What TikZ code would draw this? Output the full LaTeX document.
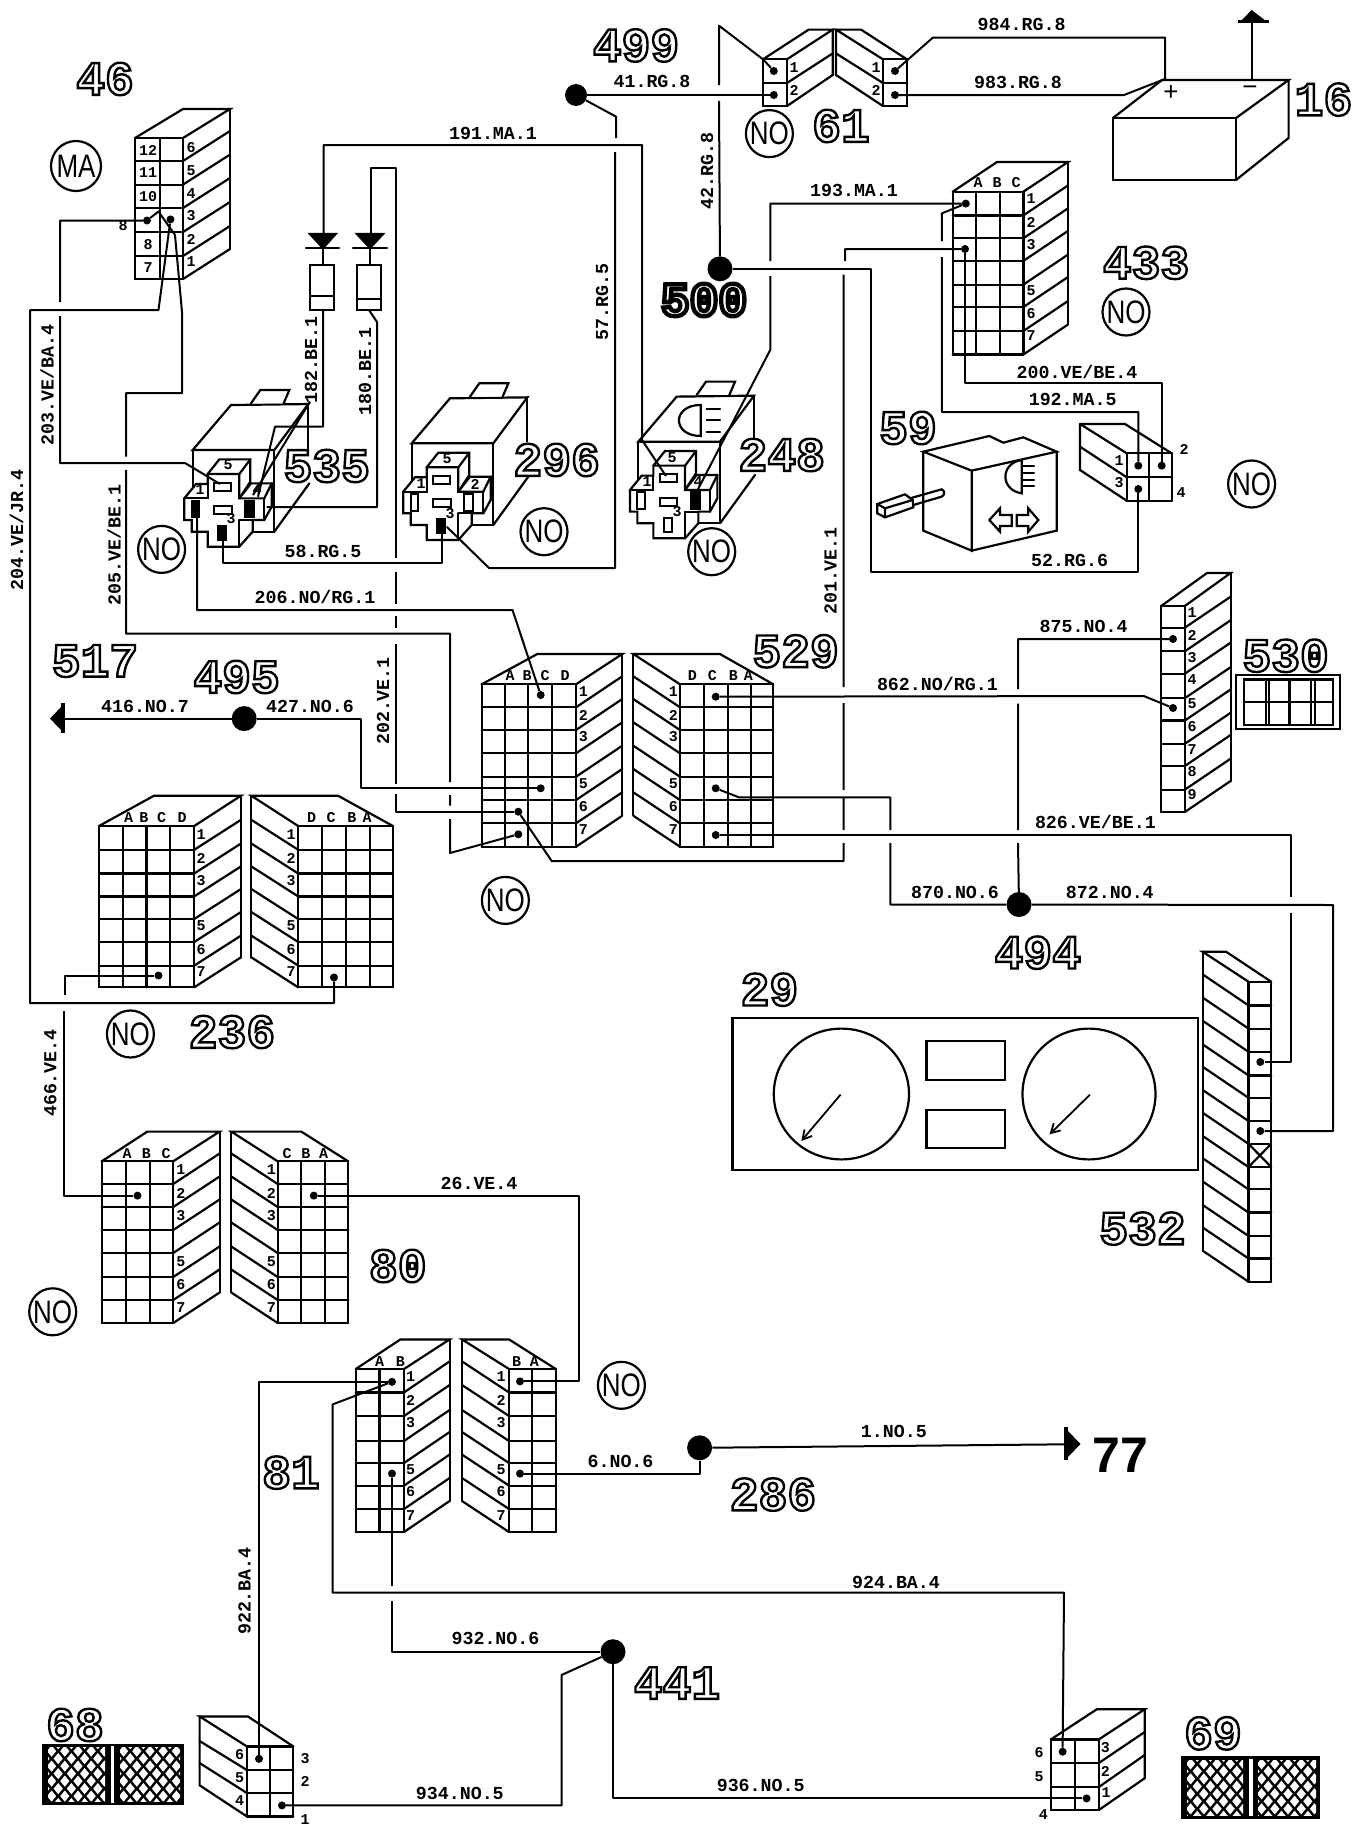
\documentclass[tikz,border=0pt]{standalone}
\usepackage{fontspec}
\usepackage{graphicx}
\usetikzlibrary{arrows.meta}
\newfontfamily\monof{Liberation Mono}
\newfontfamily\sansf{Liberation Sans}
\newfontfamily\outf{Liberation Mono}[BoldFeatures={FakeBold=5}]
\newfontfamily\outg{Liberation Mono}[BoldFeatures={FakeBold=9}]
\newcommand\outl[1]{\special{pdf:bcolor [1 1 1] [0 0 0]}#1\special{pdf:ecolor}}
\newcommand\tagtxt[1]{\scalebox{1}[1.25]{#1}}
\tikzset{
  shp/.style={line width=2.2pt,line join=miter,line cap=round},
  wire/.style={line width=2pt,line join=round,line cap=butt},
  thinwire/.style={line width=1.7pt,line join=round},
  lbl/.style={font=\monof\bfseries\fontsize{18.3}{20}\selectfont,inner sep=0pt},
  pn/.style={font=\monof\bfseries\fontsize{15}{16}\selectfont,inner sep=0pt},
  big/.style={font=\outf\bfseries\fontsize{48}{50}\selectfont,inner sep=0pt},
  pindot/.style={circle,fill=black,inner sep=0pt,minimum size=8pt},
  junction/.style={circle,fill=black,inner sep=0pt,minimum size=25pt},
  tag/.style={circle,draw,line width=2.2pt,inner sep=0pt,minimum size=47pt,font=\sansf\fontsize{26}{26}\selectfont}
}
% grid: xlist, ylist, xmin, xmax, ymin, ymax
\newcommand\cgrid[6]{%
  \foreach \gx in {#1}{\draw[shp] (\gx,#5)--(\gx,#6);}
  \foreach \gy in {#2}{\draw[shp] (#3,\gy)--(#4,\gy);}}
% hatch: xfront, xback, dy, ylist
\newcommand\chatch[4]{\foreach \gy in {#4}{\draw[shp] (#1,\gy)--(#2,\gy-#3);}}
% numbers: prefix, x, list text/y
\newcommand\nums[3]{\foreach \nt/\ny [count=\ci] in {#3}{\node[pn] (#1-\ci) at (#2,\ny) {\nt};}}
\newcommand\hatchpanel[4]{%
  \begin{scope}
  \clip (#1+3,#2+4) rectangle (#3-3,#4-4);
  \foreach \i in {0,...,5}{\foreach \j in {0,...,4}{
    \fill[white] (#1+\i*13.2,#2+\j*15) +(0,-5.6)--+(4.6,0)--+(0,5.6)--+(-4.6,0)--cycle;
    \fill[white] (#1+\i*13.2+6.6,#2+\j*15+7.5) +(0,-5.6)--+(4.6,0)--+(0,5.6)--+(-4.6,0)--cycle;
  }}
  \end{scope}}
% relay drawn in 1/3 px units, shift given in px; colours for left,right,bottom pins
\newcommand\relay[5]{%
\begin{scope}[shift={(#1,#2)},x=0.3333pt,y=-0.3333pt]
  \draw[shp,fill=white] (65,190)--(310,190)--(310,435)--(65,435)--cycle;
  \draw[shp,fill=white] (65,190)--(180,55)--(412,52)--(310,190)--cycle;
  \draw[shp] (412,52)--(412,185);
  \draw[shp] (415,290)--(310,435);
  \draw[shp,fill=white] (240,50)--(268,10)--(355,10)--(338,50);
  \draw[shp,fill=white] (110,262)--(145,218)--(238,218)--(238,285)--(205,335)--(240,290)--(302,290)--(302,360)--(280,400)--(245,400)--(245,435)--(205,480)--(110,480)--(110,435)--(62,435)--(62,400)--(40,400)--(40,335)--(75,292)--(110,292)--cycle;
  \draw[shp] (110,262)--(205,262)--(238,218);
  \draw[shp] (205,262)--(205,335)--(280,335)--(302,290);
  \draw[shp] (280,335)--(280,400);
  \draw[shp] (40,335)--(110,335)--(110,292);
  \draw[shp] (205,400)--(205,480);
  \draw[shp] (205,400)--(245,400);
  \draw[shp] (130,288) rectangle (180,312);
  \draw[shp] (130,358) rectangle (182,382);
  \draw[shp,fill=#3] (62,342) rectangle (84,392);
  \draw[shp,fill=#4] (222,342) rectangle (250,392);
  \draw[shp,fill=#5] (142,418) rectangle (165,460);
\end{scope}}
\begin{document}
\begin{tikzpicture}[x=1pt,y=-1pt]
\useasboundingbox[fill=white] (0,0) rectangle (1364,1834);

%%%%%%%%%% connector 46
\cgrid{135,160,183}{138,161,184.6,208,232,256,279}{135}{183}{138}{279}
\draw[shp] (135,138)--(183,109)--(230,109)--(183,138);
\chatch{183}{230}{30}{161,184.6,208,232,256,279}
\draw[shp] (230,109)--(230,249);
\nums{n46l}{148}{12/150,11/173,10/196.5,8/244.5,7/268}
\nums{n46r}{191}{6/148,5/171,4/194,3/216,2/239,1/262}
\node[pn] (n46x) at (123,226) {8};
\node[pindot] (p46a) at (147,220.5) {};
\node[pindot] (p46b) at (170.5,219.4) {};

%%%%%%%%%% relays
\relay{171}{386.7}{black}{black}{black}
\relay{390}{380}{white}{white}{black}
\relay{616.7}{378.3}{white}{black}{white}
\node[pn] (r1a) at (228,465) {5};
\node[pn] (r1b) at (200,490) {1};
\node[pn] (r1c) at (257,490) {4};
\node[pn] (r1d) at (231,519) {3};
\node[pn] (r2a) at (447,459) {5};
\node[pn] (r2b) at (421,484) {1};
\node[pn] (r2c) at (475,484) {2};
\node[pn] (r2d) at (450,514) {3};
\node[pn] (r3a) at (672,458) {5};
\node[pn] (r3b) at (647,482) {1};
\node[pn] (r3c) at (698,482) {4};
\node[pn] (r3d) at (677,512) {3};
% lamp on relay 248
\begin{scope}[shift={(616.7,378.3)},x=0.3333pt,y=-0.3333pt]
  \draw[shp] (252,80) .. controls (165,80) and (165,173) .. (252,173) -- cycle;
  \draw[shp] (270,93)--(310,93) (270,125)--(310,125) (270,160)--(310,160);
\end{scope}
\coordinate (r535t) at (220,484);
\coordinate (r535p4) at (258,496.7);
\coordinate (r535p1) at (197,503);
\coordinate (r535p3) at (223,530);
\coordinate (r296p3) at (441.7,523);
\coordinate (r296p3b) at (446.7,526.7);
\coordinate (r248t) at (666,476);
\coordinate (r248p4) at (695,495);

%%%%%%%%%% diodes
\draw[shp,fill=black] (310,234)--(335.7,234)--(323,248)--cycle;
\draw[shp] (306,248)--(339,248);
\draw[shp] (323,248)--(323,265);
\draw[shp] (310,265) rectangle (334,310);
\draw[shp] (310,296)--(334,296);
\draw[shp,fill=black] (357,234)--(383,234)--(370,248)--cycle;
\draw[shp] (353,248)--(387,248);
\draw[shp] (370,248)--(370,265);
\draw[shp] (357,265) rectangle (381,310);
\draw[shp] (357,299)--(381,299);

%%%%%%%%%% connector 61
\draw[shp] (763,59.3) rectangle (787,106);
\draw[shp] (763,83)--(787,83);
\draw[shp] (763,59.3)--(808.7,29.6)--(832.7,29.6)--(787,59.3);
\draw[shp] (787,83)--(832.7,53.4);
\draw[shp] (787,106)--(832.7,75)--(832.7,29.6);
\draw[shp] (882.9,59.3) rectangle (906.9,106);
\draw[shp] (882.9,83)--(906.9,83);
\draw[shp] (906.9,59.3)--(861,29.6)--(836,29.6)--(882.9,59.3);
\draw[shp] (882.9,83)--(836,53.4);
\draw[shp] (882.9,106)--(836,75)--(836,29.6);
\node[pindot] (p61a) at (773.8,71) {};
\node[pindot] (p61b) at (773.8,95) {};
\node[pindot] (p61c) at (895,71) {};
\node[pindot] (p61d) at (895,95) {};
\node[pn] (n61a) at (794,68) {1};
\node[pn] (n61b) at (794,90) {2};
\node[pn] (n61c) at (876,68) {1};
\node[pn] (n61d) at (876,90) {2};

%%%%%%%%%% battery
\draw[shp] (1113,118) rectangle (1236,180);
\draw[shp] (1113,118)--(1162,80)--(1288.6,80)--(1236,118);
\draw[shp] (1288.6,80)--(1288.6,138)--(1236,180);
\node[font=\sansf\fontsize{26}{26}\selectfont,inner sep=0pt] (plus) at (1171,93) {+};
\node[font=\sansf\fontsize{26}{26}\selectfont,inner sep=0pt] (minus) at (1250,91) {\textminus};
\coordinate (batplus) at (1165,79);
\coordinate (batminus) at (1251.6,80);
\coordinate (gnd1) at (1251.6,21.5);
\draw[shp] (batminus)--(gnd1);
\fill (1238,20) rectangle (1269,23);
\fill (1241,21)--(1251.6,10)--(1266,21)--cycle;

%%%%%%%%%% connector 433
\cgrid{952.7,975.8,999.8,1023.4}{191.7,215.4,238.3,260.9,284.6,307,331,354.5}{952.7}{1023.4}{191.7}{354.5}
\draw[shp] (952.7,191.7)--(997,162)--(1068,162)--(1023.4,191.7);
\chatch{1023.4}{1068}{30}{215.4,238.3,260.9,284.6,307,331,354.5}
\draw[shp] (1068,162)--(1068,323.3);
\node[pn] (a433a) at (978,183) {A};
\node[pn] (a433b) at (997,183) {B};
\node[pn] (a433c) at (1016,183) {C};
\nums{n433}{1031}{1/199,2/222,3/245,5/291,6/314,7/336}
\node[pindot] (p433a) at (965.8,203.6) {};
\node[pindot] (p433b) at (965,249) {};

%%%%%%%%%% 4-pin connector
\cgrid{1126.7,1149.3,1171.7}{453.3,477.3,500.7}{1126.7}{1171.7}{453.3}{500.7}
\draw[shp] (1080,424)--(1126.7,453.3) (1080,424)--(1125,424)--(1171.7,453.3);
\draw[shp] (1080,424)--(1080,470)--(1126.7,500.7) (1080,446.7)--(1126.7,477.3);
\node[pindot] (p59a) at (1138.3,465.7) {};
\node[pindot] (p59b) at (1161.7,465.7) {};
\node[pindot] (p59c) at (1138.3,489) {};
\node[pn] (n59a) at (1119,461) {1};
\node[pn] (n59b) at (1184,449) {2};
\node[pn] (n59c) at (1119,483) {3};
\node[pn] (n59d) at (1181,493) {4};

%%%%%%%%%% switch 59
\begin{scope}[shift={(860,400)},x=0.3333pt,y=-0.3333pt]
  \draw[shp] (190,155)--(388,108)--(430,128)--(490,112)--(590,155)--(335,212)--cycle;
  \draw[shp] (190,155)--(190,392)--(335,452)--(335,212);
  \draw[shp] (335,452)--(590,392)--(590,155);
  \draw[shp] (485,180) .. controls (420,190) and (420,270) .. (485,280) -- cycle;
  \draw[shp] (490,197)--(522,197) (490,218)--(522,218) (490,240)--(522,240) (490,258)--(522,258);
  \draw[shp] (388,360)--(420,325)--(420,345)--(455,345)--(455,378)--(420,378)--(420,395)--cycle;
  \draw[shp] (535,360)--(505,325)--(505,345)--(470,345)--(470,378)--(505,378)--(505,395)--cycle;
  \draw[shp] (150,295)--(245,268) .. controls (255,272) and (255,285) .. (245,290)--(160,315);
  \draw[shp] (52,312)--(135,283)--(158,300)--(160,322)--(75,352)--(52,340)--cycle;
  \draw[shp] (52,312)--(75,325)--(158,300) (75,325)--(75,352);
\end{scope}

%%%%%%%%%% connector 530
\cgrid{1161.2,1184.8}{606,627.7,651.3,673.7,698.2,720.5,743.8,766,789.7,812}{1161.2}{1184.8}{606}{812}
\draw[shp] (1161.2,606)--(1207,573)--(1230.6,573)--(1184.8,606);
\chatch{1184.8}{1230.6}{31}{627.7,651.3,673.7,698.2,720.5,743.8,766,789.7,812}
\draw[shp] (1230.6,573)--(1230.6,781);
\nums{n530}{1192}{1/613,2/635,3/658,4/680,5/704,6/727,7/750,8/772,9/795}
\node[pindot] (p530a) at (1173,639) {};
\node[pindot] (p530b) at (1173,708) {};
\draw[shp] (1236.3,675) rectangle (1340,728.6);
\draw[shp] (1244,679.5) rectangle (1333,725);
\draw[shp] (1244,701.8)--(1333,701.8);
\draw[shp] (1266,679.5)--(1266,725) (1269,679.5)--(1269,725) (1289.5,679.5)--(1289.5,725) (1311,679.5)--(1311,725) (1315,679.5)--(1315,725);

%%%%%%%%%% connector 529
\cgrid{481.7,505,528.3,551.7,576}{684.3,707.3,730,753.3,776.7,800,823.3,846.7}{481.7}{576}{684.3}{846.7}
\draw[shp] (481.7,684.3)--(537.3,654)--(622.3,654)--(576,684.3);
\chatch{576}{622.3}{31}{707.3,730,753.3,776.7,800,823.3,846.7}
\draw[shp] (622.3,654)--(622.3,815);
\cgrid{680,704.3,727.7,751,773.3}{684.3,707.3,730,753.3,776.7,800,823.3,846.7}{680}{773.3}{684.3}{846.7}
\draw[shp] (680,684.3)--(633.3,654)--(720,654)--(773.3,684.3);
\chatch{680}{633.3}{31}{707.3,730,753.3,776.7,800,823.3,846.7}
\draw[shp] (633.3,654)--(633.3,815);
\node[pn] (a529a) at (510,676) {A};
\node[pn] (a529b) at (527,676) {B};
\node[pn] (a529c) at (545,676) {C};
\node[pn] (a529d) at (565,676) {D};
\node[pn] (a529e) at (692.3,676) {D};
\node[pn] (a529f) at (712.3,676) {C};
\node[pn] (a529g) at (733.3,676) {B};
\node[pn] (a529h) at (748.3,676) {A};
\nums{n529l}{583.3}{1/692,2/715,3/737,5/784,6/807,7/830}
\nums{n529r}{673.3}{1/692,2/715,3/737,5/784,6/807,7/830}
\node[pindot] (p529a) at (540.7,695) {};
\node[pindot] (p529b) at (540.7,788.3) {};
\node[pindot] (p529c) at (518.3,811.7) {};
\node[pindot] (p529d) at (518.3,834.3) {};
\node[pindot] (p529e) at (715.7,696.7) {};
\node[pindot] (p529f) at (715.7,788.3) {};
\node[pindot] (p529g) at (715.7,835) {};

%%%%%%%%%% connector 236
\cgrid{99,122.8,146.4,169.6,194.2}{826,849.8,873.5,896.4,919,942,965.6,987.3}{99}{194.2}{826}{987.3}
\draw[shp] (99,826)--(154,795.7)--(241,795.7)--(194.2,826);
\chatch{194.2}{241}{30}{849.8,873.5,896.4,919,942,965.6,987.3}
\draw[shp] (241,795.7)--(241,957.7);
\cgrid{298.2,322.3,346,369.6,392.9}{826,849.8,873.5,896.4,919,942,965.6,987.3}{298.2}{392.9}{826}{987.3}
\draw[shp] (298.2,826)--(251.3,795.7)--(338,795.7)--(392.9,826);
\chatch{298.2}{251.3}{30}{849.8,873.5,896.4,919,942,965.6,987.3}
\draw[shp] (251.3,795.7)--(251.3,957.7);
\node[pn] (a236a) at (128.6,818) {A};
\node[pn] (a236b) at (143.8,818) {B};
\node[pn] (a236c) at (161.6,818) {C};
\node[pn] (a236d) at (182,818) {D};
\node[pn] (a236e) at (311.6,818) {D};
\node[pn] (a236f) at (331,818) {C};
\node[pn] (a236g) at (351.8,818) {B};
\node[pn] (a236h) at (367,818) {A};
\nums{n236l}{201}{1/835,2/858,3/881,5/926,6/950,7/972}
\nums{n236r}{291}{1/835,2/858,3/881,5/926,6/950,7/972}
\node[pindot] (p236a) at (158.5,975.5) {};
\node[pindot] (p236b) at (334,977.5) {};

%%%%%%%%%% connector 80
\cgrid{101.8,126.3,149.6,173.2}{1161.3,1184,1207,1230,1253,1277,1300,1323}{101.8}{173.2}{1161.3}{1323}
\draw[shp] (101.8,1161.3)--(147.3,1131.6)--(219.6,1131.6)--(173.2,1161.3);
\chatch{173.2}{219.6}{30.5}{1184,1207,1230,1253,1277,1300,1323}
\draw[shp] (219.6,1131.6)--(219.6,1292.4);
\cgrid{277.7,301.3,325,348.2}{1161.3,1184,1207,1230,1253,1277,1300,1323}{277.7}{348.2}{1161.3}{1323}
\draw[shp] (277.7,1161.3)--(231.3,1131.6)--(301.3,1131.6)--(348.2,1161.3);
\chatch{277.7}{231.3}{30.5}{1184,1207,1230,1253,1277,1300,1323}
\draw[shp] (231.3,1131.6)--(231.3,1292.4);
\node[pn] (a80a) at (127.2,1154) {A};
\node[pn] (a80b) at (146.4,1154) {B};
\node[pn] (a80c) at (166,1154) {C};
\node[pn] (a80d) at (287,1154) {C};
\node[pn] (a80e) at (305.8,1154) {B};
\node[pn] (a80f) at (323.7,1154) {A};
\nums{n80l}{180.8}{1/1170,2/1193,3/1216,5/1262,6/1285,7/1308}
\nums{n80r}{271.4}{1/1170,2/1193,3/1216,5/1262,6/1285,7/1308}
\node[pindot] (p80a) at (137.5,1195.6) {};
\node[pindot] (p80b) at (313.8,1195.6) {};

%%%%%%%%%% connector 81
\cgrid{355.8,379.5,404}{1369,1392.4,1416,1441,1463,1485.6,1509,1532}{355.8}{404}{1369}{1532}
\draw[shp] (355.8,1369)--(400.4,1339.4)--(449.6,1339.4)--(404,1369);
\chatch{404}{449.6}{31}{1392.4,1416,1441,1463,1485.6,1509,1532}
\draw[shp] (449.6,1339.4)--(449.6,1501);
\cgrid{509,532,555.8}{1369,1392.4,1416,1441,1463,1485.6,1509,1532}{509}{555.8}{1369}{1532}
\draw[shp] (509,1369)--(462,1339.4)--(509,1339.4)--(555.8,1369);
\chatch{509}{462}{31}{1392.4,1416,1441,1463,1485.6,1509,1532}
\draw[shp] (462,1339.4)--(462,1501);
\node[pn] (a81a) at (379.5,1362) {A};
\node[pn] (a81b) at (400.4,1362) {B};
\node[pn] (a81c) at (516.5,1362) {B};
\node[pn] (a81d) at (534.4,1362) {A};
\nums{n81l}{410.7}{1/1377,2/1400,3/1423,5/1470,6/1492,7/1516}
\nums{n81r}{501}{1/1377,2/1400,3/1423,5/1470,6/1492,7/1516}
\node[pindot] (p81a) at (392,1381.8) {};
\node[pindot] (p81b) at (392,1473.6) {};
\node[pindot] (p81c) at (520,1381.4) {};
\node[pindot] (p81d) at (520,1473.6) {};

%%%%%%%%%% connector 68
\cgrid{246.9,270,293.3}{1746.4,1770,1793,1816.4}{246.9}{293.3}{1746.4}{1816.4}
\draw[shp] (246.9,1746.4)--(199.6,1716.4)--(247.8,1716.4)--(293.3,1746.4);
\draw[shp] (199.6,1716.4)--(199.6,1785.3)--(246.9,1816.4);
\draw[shp] (199.6,1741)--(246.9,1770) (199.6,1763)--(246.9,1793);
\node[pn] (n68a) at (239.7,1754.6) {6};
\node[pn] (n68b) at (239.7,1777.5) {5};
\node[pn] (n68c) at (239.7,1800.5) {4};
\node[pn] (n68d) at (305,1758.8) {3};
\node[pn] (n68e) at (305,1781.8) {2};
\node[pn] (n68f) at (305,1820) {1};
\node[pindot] (p68a) at (259,1758.8) {};
\node[pindot] (p68b) at (282,1805.4) {};
\fill[black] (42.4,1743.6) rectangle (184,1805.4);
\fill[white] (110.5,1746) rectangle (114,1803);
\hatchpanel{45}{1743.6}{108}{1805.4}
\hatchpanel{117}{1743.6}{183}{1805.4}

%%%%%%%%%% connector 69
\cgrid{1050.9,1074.8,1098.8}{1739.4,1763,1787,1810}{1050.9}{1098.8}{1739.4}{1810}
\draw[shp] (1050.9,1739.4)--(1096.7,1709.3)--(1144.7,1709.3)--(1098.8,1739.4);
\draw[shp] (1144.7,1709.3)--(1144.7,1778.2)--(1098.8,1810);
\draw[shp] (1098.8,1763)--(1144.7,1732) (1098.8,1787)--(1144.7,1755);
\node[pn] (n69a) at (1039,1752.4) {6};
\node[pn] (n69b) at (1039,1776.5) {5};
\node[pn] (n69c) at (1043.4,1814.3) {4};
\node[pn] (n69d) at (1105.4,1748) {3};
\node[pn] (n69e) at (1105.4,1771) {2};
\node[pn] (n69f) at (1106,1792.4) {1};
\node[pindot] (p69a) at (1062.6,1751.7) {};
\node[pindot] (p69b) at (1086.6,1798.4) {};
\fill[black] (1181,1756.3) rectangle (1320,1819);
\fill[white] (1248.5,1759) rectangle (1252.5,1816);
\hatchpanel{1184}{1756.3}{1246}{1819}
\hatchpanel{1255}{1756.3}{1319}{1819}

%%%%%%%%%% connector 532
\cgrid{1248.5,1271.2}{981.7,1005.4,1028.6,1051.8,1075.4,1097.8,1121,1143.8,1167,1189.3,1212.5,1236,1258.5,1281.7}{1248.5}{1271.2}{981.7}{1281.7}
\draw[shp] (1248.5,981.7)--(1202.7,951.8)--(1226.2,951.8)--(1271.2,981.7);
\chatch{1248.5}{1202.7}{31}{1005.4,1028.6,1051.8,1075.4,1097.8,1121,1143.8,1167,1189.3,1212.5,1236,1258.5,1281.7}
\draw[shp] (1202.7,951.8)--(1202.7,1250.5);
\draw[shp] (1248.5,1143.8)--(1271.2,1167) (1248.5,1167)--(1271.2,1143.8);
\node[pindot] (p532a) at (1260.3,1062) {};
\node[pindot] (p532b) at (1260.3,1131) {};

%%%%%%%%%% cluster 29
\draw[shp] (732.4,1018.3) rectangle (1198.3,1170);
\draw[shp] (841.4,1094) ellipse [x radius=67.6pt,y radius=65.4pt];
\draw[shp] (1089,1094) ellipse [x radius=66.5pt,y radius=65.4pt];
\draw[shp] (926.5,1041) rectangle (1005,1080);
\draw[shp] (926.5,1110) rectangle (1005,1148);
\draw[line width=1.8pt,-{Straight Barb[length=9pt,width=10pt]}] (840.6,1094.6)--(801.3,1141);
\draw[line width=1.8pt,-{Straight Barb[length=9pt,width=10pt]}] (1090,1094.6)--(1049.5,1134.4);

%%%%%%%%%% junctions
\node[junction,minimum size=22pt] (j499) at (576,95) {};
\node[junction] (j500) at (720,268.8) {};
\node[junction] (j495) at (244.2,718.6) {};
\node[junction] (j494) at (1019,904.5) {};
\node[junction] (j286) at (699.6,1447.8) {};
\node[junction] (j441) at (613,1651.7) {};

%%%%%%%%%% grounds
\coordinate (gnd517) at (62.5,718.6);
\fill (61,703) rectangle (65,733);
\fill (62,706)--(50,718.6)--(62,731)--cycle;
\coordinate (gnd77) at (1066,1444.3);
\fill (1064,1427) rectangle (1068,1460);
\fill (1067,1430)--(1080.5,1444)--(1067,1458)--cycle;

%%%%%%%%%% wires
\draw[wire] (j499)--(p61b);
\draw[wire] (p61a)--(763,59.3)--(719,25.7)--(719,85) (719,100.8)--(j500);
\draw[wire] (p61c)--(933,37.5)--(1165,37.5)--(batplus);
\draw[wire] (p61d)--(1124,95)--(batplus);
\draw[wire] (j499)--(616,116.6)--(616,138) (615,152)--(615,568)--(489,568)--(r296p3b);
\draw[wire] (r248t)--(642,440)--(642,145)--(323.6,145)--(323.6,234);
\draw[wire] (370.5,234)--(370.5,168)--(396.4,168)--(396.4,558) (396.4,571.7)--(396.4,604) (396,616)--(396,628) (396,644)--(396,784) (396,794)--(396,811.7)--(p529c);
\draw[wire] (323,310)--(323,426.7)--(275,426.7)--(r535p4);
\draw[wire] (310,401.7)--(253,495);
\draw[wire] (369,310)--(377,322)--(377,507)--(266.7,507);
\draw[wire] (p46a)--(60,220.5)--(60,302) (60,316)--(60,463)--(185,463)--(r535t);
\draw[wire] (p46a)--(158.5,211.5)--(175,235)--(182,312)--(182,393)--(126,393)--(126,456.5) (126,470)--(126,633.6)--(450,633.6)--(450,782) (450,795)--(450,805.5) (450,819)--(450,853)--(p529d);
\draw[wire] (p46b)--(158.5,310)--(30,310)--(30,1003)--(334,1003)--(p236b);
\draw[wire] (r535p1)--(197,610)--(512.5,610)--(p529a);
\draw[wire] (r535p3)--(223,563.3)--(441.7,563.3)--(r296p3);
\draw[wire] (p433a)--(770.3,203.6)--(770.3,261) (770.3,276)--(770.3,349.8)--(r248p4);
\draw[wire] (p433a)--(941.8,213.4)--(941.8,241) (941.8,257)--(941.8,412)--(1138.3,412)--(p59a);
\draw[wire] (p433b)--(845,249)--(845,261) (843.6,274.7)--(843.6,687) (843.6,703)--(843.6,790) (843.6,797)--(843.6,830) (843.6,843)--(843.6,861)--(551.7,861)--(p529c);
\draw[wire] (p433b)--(965,383.4)--(1161.7,383.4)--(p59b);
\draw[wire] (j500)--(870.7,268.8)--(870.7,572)--(1138.3,572)--(p59c);
\draw[wire] (p530a)--(1018,639)--(1018,689) (1018,703.6)--(1018,830) (1018,843)--(j494);
\draw[wire] (p529e)--(1143.8,696)--(p530b);
\draw[wire] (p529f)--(739,797.3)--(890.3,797.3)--(890.3,830) (890.3,843)--(890.3,904.5)--(j494);
\draw[wire] (p529g)--(1290.8,835)--(1290.8,897) (1290.8,912.5)--(1290.8,1062)--(p532a);
\draw[wire] (j494)--(1333,905)--(1333,1131)--(p532b);
\draw[wire] (gnd517)--(j495);
\draw[wire] (j495)--(360.7,718.6)--(360.7,788.3)--(p529b);
\draw[wire] (p236a)--(64.7,975.5)--(64.7,995) (64,1011)--(64,1195.6)--(p80a);
\draw[wire] (p80b)--(579,1195.6)--(579,1381.4)--(p81c);
\draw[thinwire] (p81a)--(259,1381.8)--(p68a);
\draw[wire] (p81a)--(332.6,1404.4)--(332.6,1592.7)--(1064,1592.7)--(p69a);
\draw[thinwire] (p81b)--(392,1585.7) (392,1601)--(392,1651.7)--(j441);
\draw[wire] (p68b)--(561.6,1805.4)--(561.6,1675)--(j441);
\draw[wire] (j441)--(613,1798.4)--(p69b);
\draw[wire] (p81d)--(699.6,1473.6)--(j286);
\draw[wire] (j286)--(gnd77);

%%%%%%%%%% wire labels
\node[lbl] (l41) at (652,81) {41.RG.8};
\node[lbl,rotate=90] (l42) at (707,171) {42.RG.8};
\node[lbl] (l984) at (1021.6,24.5) {984.RG.8};
\node[lbl] (l983) at (1018,82) {983.RG.8};
\node[lbl] (l191) at (493,133) {191.MA.1};
\node[lbl,rotate=90] (l57) at (602,302) {57.RG.5};
\node[lbl] (l193) at (854,190) {193.MA.1};
\node[lbl] (l200) at (1077,371.5) {200.VE/BE.4};
\node[lbl] (l192) at (1072.7,399) {192.MA.5};
\node[lbl] (l52) at (1069.6,560.5) {52.RG.6};
\node[lbl,rotate=90] (l182) at (311,360) {182.BE.1};
\node[lbl,rotate=90] (l180) at (365,371.6) {180.BE.1};
\node[lbl,rotate=90] (l203) at (47,385) {203.VE/BA.4};
\node[lbl,rotate=90] (l204) at (16.5,530) {204.VE/JR.4};
\node[lbl,rotate=90] (l205) at (114,545) {205.VE/BE.1};
\node[lbl] (l58) at (323,551.7) {58.RG.5};
\node[lbl] (l206) at (315,597) {206.NO/RG.1};
\node[lbl,rotate=90] (l202) at (383,701) {202.VE.1};
\node[lbl,rotate=90] (l201) at (830.5,571) {201.VE.1};
\node[lbl] (l416) at (145,706) {416.NO.7};
\node[lbl] (l427) at (310,706) {427.NO.6};
\node[lbl] (l875) at (1083.6,626.8) {875.NO.4};
\node[lbl] (l862) at (937.4,683.5) {862.NO/RG.1};
\node[lbl] (l826) at (1095.4,822.3) {826.VE/BE.1};
\node[lbl] (l870) at (955,892.4) {870.NO.6};
\node[lbl] (l872) at (1109.8,892.4) {872.NO.4};
\node[lbl,rotate=90] (l466) at (50.4,1073) {466.VE.4};
\node[lbl] (l26) at (479,1183.8) {26.VE.4};
\node[lbl] (l6) at (620.5,1461.3) {6.NO.6};
\node[lbl] (l1) at (893.8,1431) {1.NO.5};
\node[lbl] (l924) at (896,1582) {924.BA.4};
\node[lbl,rotate=90] (l922) at (244.6,1591) {922.BA.4};
\node[lbl] (l932) at (495.5,1638.7) {932.NO.6};
\node[lbl] (l934) at (459.8,1793) {934.NO.5};
\node[lbl] (l936) at (760.7,1785.3) {936.NO.5};

%%%%%%%%%% big numbers
\node[big] (t46) at (105,79) {\outl{46}};
\node[big] (t499) at (636,45.5) {\outl{499}};
\node[big] (t61) at (841,126) {\outl{61}};
\node[big] (t16) at (1323.5,99.6) {\outl{16}};
\node[big] (t433) at (1146,262.8) {\outl{433}};
\node[big,font=\outg\bfseries\fontsize{48}{50}\selectfont] (t500) at (704,300) {\outl{500}};
\node[big] (t59) at (908,428) {\outl{59}};
\node[big] (t248) at (781.7,455) {\outl{248}};
\node[big] (t296) at (556.7,460) {\outl{296}};
\node[big] (t535) at (326.7,466) {\outl{535}};
\node[big] (t517) at (95,661) {\outl{517}};
\node[big] (t495) at (236.6,677) {\outl{495}};
\node[big] (t529) at (795.6,651.3) {\outl{529}};
\node[big] (t530) at (1285.6,655.8) {\outl{530}};
\node[big] (t494) at (1037.8,952.7) {\outl{494}};
\node[big] (t29) at (769.4,989.7) {\outl{29}};
\node[big] (t532) at (1142.5,1228.6) {\outl{532}};
\node[big] (t236) at (232,1032) {\outl{236}};
\node[big] (t80) at (397.8,1266) {\outl{80}};
\node[big] (t81) at (291,1472.6) {\outl{81}};
\node[big] (t286) at (773,1494.5) {\outl{286}};
\node[big] (t441) at (677,1683) {\outl{441}};
\node[big] (t68) at (75,1725) {\outl{68}};
\node[big] (t69) at (1213,1733.4) {\outl{69}};
\node[font=\sansf\bfseries\fontsize{50}{50}\selectfont,inner sep=0pt] (t77) at (1120.7,1455.6) {77};

%%%%%%%%%% tags
\node[tag,minimum size=50pt] (tMA) at (76,166) {\tagtxt{MA}};
\node[tag] (tNO1) at (769.4,133.6) {\tagtxt{NO}};
\node[tag] (tNO2) at (1126,312) {\tagtxt{NO}};
\node[tag] (tNO3) at (1251.6,484) {\tagtxt{NO}};
\node[tag] (tNO4) at (711.7,551.7) {\tagtxt{NO}};
\node[tag] (tNO5) at (544,531.7) {\tagtxt{NO}};
\node[tag] (tNO6) at (161.6,549.4) {\tagtxt{NO}};
\node[tag] (tNO7) at (505.4,900.4) {\tagtxt{NO}};
\node[tag] (tNO8) at (130.4,1034) {\tagtxt{NO}};
\node[tag] (tNO9) at (52.7,1311.8) {\tagtxt{NO}};
\node[tag] (tNO10) at (621.4,1385.3) {\tagtxt{NO}};
\end{tikzpicture}
\end{document}
